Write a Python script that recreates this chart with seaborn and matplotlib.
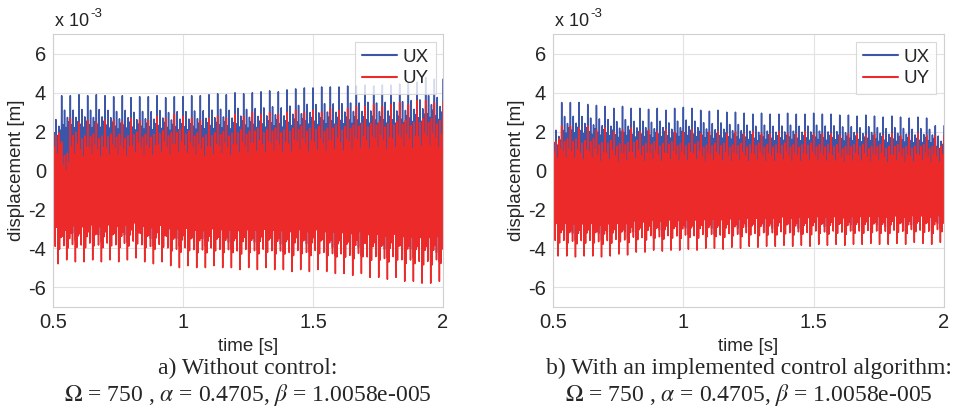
import numpy as np
import pandas as pd
import matplotlib
matplotlib.use('Agg')
import matplotlib.pyplot as plt
import seaborn as sb

# Envelopes, one value per major cycle (45 cycles, 0.5 s .. 2 s), in 1e-3 m

# a) without control
ux_a_hi = [3.3, 3.85, 3.85, 3.9, 3.85, 3.9, 3.85, 3.8, 3.85, 3.75, 3.8, 3.8, 3.85, 3.75, 3.8,
           3.8, 3.85, 3.85, 3.9, 3.95, 3.9, 4.0, 3.95, 4.0, 4.05, 4.1, 4.05, 4.15, 4.2, 4.25,
           4.25, 4.3, 4.3, 4.3, 4.35, 4.35, 4.4, 4.35, 4.4, 4.4, 4.45, 4.5, 4.55, 4.8, 4.7]
ux_a_lo = [-3.5, -3.6, -3.6, -3.7, -3.6, -3.7, -3.7, -3.8, -3.7, -3.8, -3.8, -3.9, -3.8, -3.9, -3.9,
           -3.9, -4.0, -3.9, -4.0, -4.0, -4.1, -4.0, -4.1, -4.1, -4.2, -4.1, -4.2, -4.2, -4.3, -4.2,
           -4.3, -4.3, -4.4, -4.3, -4.4, -4.4, -4.5, -4.4, -4.5, -4.5, -4.6, -4.5, -4.6, -4.6, -4.7]
uy_a_hi = [2.7, 1.5, 2.7, 2.5, 2.6, 2.5, 2.6, 2.6, 2.5, 2.7, 2.6, 2.6, 2.8, 2.7, 2.9,
           2.8, 2.7, 2.6, 2.7, 2.8, 2.7, 2.9, 2.8, 3.0, 2.9, 3.0, 2.9, 3.0, 3.1, 3.0,
           3.1, 3.0, 3.2, 3.1, 3.2, 3.3, 3.3, 3.4, 3.3, 3.4, 3.5, 3.4, 3.6, 3.6, 3.5]
uy_a_lo = [-4.8, -4.6, -4.7, -4.7, -4.6, -4.7, -4.6, -4.7, -4.6, -4.5, -4.7, -4.8, -4.7, -4.9, -5.0,
           -4.9, -5.0, -5.0, -4.9, -5.0, -5.0, -5.1, -5.0, -5.1, -5.0, -5.1, -5.1, -5.2, -5.1, -5.2,
           -5.1, -5.2, -5.3, -5.3, -5.4, -5.3, -5.5, -5.5, -5.6, -5.5, -5.7, -5.7, -5.8, -5.8, -5.7]

# b) with control algorithm
ux_b_hi = [2.7, 3.5, 3.5, 3.5, 3.4, 3.35, 3.3, 3.2, 3.3, 3.2, 3.2, 3.15, 3.2, 3.1, 3.2,
           3.25, 3.2, 3.1, 3.05, 3.1, 3.0, 3.0, 2.95, 2.9, 2.95, 2.9, 2.9, 2.95, 2.9, 2.9,
           2.95, 2.9, 2.9, 2.85, 2.85, 2.8, 2.85, 2.8, 2.75, 2.8, 2.75, 2.7, 2.75, 2.7, 2.3]
ux_b_lo = [-3.6, -3.7, -3.6, -3.7, -3.6, -3.6, -3.5, -3.6, -3.5, -3.5, -3.4, -3.5, -3.4, -3.4, -3.4,
           -3.3, -3.4, -3.3, -3.3, -3.4, -3.3, -3.3, -3.2, -3.3, -3.2, -3.3, -3.2, -3.2, -3.3, -3.2,
           -3.2, -3.2, -3.1, -3.2, -3.1, -3.2, -3.1, -3.1, -3.2, -3.1, -3.1, -3.1, -3.2, -3.1, -3.0]
uy_b_hi = [2.3, 2.3, 2.3, 2.2, 2.3, 2.1, 2.2, 2.0, 2.1, 2.2, 2.0, 2.1, 2.0, 2.1, 2.0,
           2.0, 2.1, 1.9, 2.0, 2.0, 1.9, 2.0, 1.9, 2.0, 1.9, 1.9, 2.0, 1.9, 1.9, 2.0,
           1.9, 1.9, 1.9, 1.8, 1.9, 1.9, 1.8, 1.9, 1.8, 1.9, 1.8, 1.8, 1.9, 1.8, 1.8]
uy_b_lo = [-4.4, -4.4, -4.45, -4.4, -4.4, -4.45, -4.4, -4.3, -4.35, -4.2, -4.2, -4.1, -4.15, -4.1, -4.1,
           -4.05, -4.1, -4.0, -4.0, -4.05, -3.95, -4.0, -3.9, -3.95, -3.9, -3.9, -3.85, -3.9, -3.85, -3.9,
           -3.8, -3.85, -3.8, -3.85, -3.8, -3.8, -3.75, -3.8, -3.8, -3.75, -3.8, -3.7, -3.75, -3.8, -3.7]

# shape of the fast oscillation inside one cycle (0 = trough, 1 = peak)
ux_shape = [1.0, 0.15, 0.8, 0.05, 0.9, 0.2, 0.78, 0.0, 0.85, 0.1, 0.82, 0.12]
uy_shape = [1.0, 0.2, 0.8, 0.12, 0.88, 0.25, 0.75, 0.0, 0.9, 0.1, 0.82, 0.18]

t_start, t_end = 0.5, 2.0
caption_a = 'a) Without control:'
caption_b = 'b) With an implemented control algorithm:'
params = r'$\Omega$ = 750 , $\alpha$ = 0.4705, $\beta$ = 1.0058e-005'


def build_series(hi, lo, shape):
    n = len(hi)
    dt = (t_end - t_start) / n
    t, y = [], []
    for k in range(n):
        for j, f in enumerate(shape):
            t.append(t_start + (k + j / len(shape)) * dt)
            y.append(lo[k] + f * (hi[k] - lo[k]))
    t.append(t_end)
    y.append(lo[-1] + shape[0] * (hi[-1] - lo[-1]))
    return pd.DataFrame({'time': t, 'disp': y})


sb.set_style('whitegrid')
plt.rcParams['font.family'] = ['Liberation Sans', 'DejaVu Sans']
plt.rcParams['mathtext.fontset'] = 'stix'

fig = plt.figure(figsize=(9.7, 4.12), dpi=100)
ax1 = fig.add_axes([53 / 970, 105.5 / 412, 390 / 970, 272 / 412])
ax2 = fig.add_axes([553 / 970, 105.5 / 412, 391 / 970, 272 / 412])

blue = '#3b55a9'
red = '#ec2a2a'

panels = [(ax1, ux_a_hi, ux_a_lo, uy_a_hi, uy_a_lo, caption_a),
          (ax2, ux_b_hi, ux_b_lo, uy_b_hi, uy_b_lo, caption_b)]

for ax, uxh, uxl, uyh, uyl, cap in panels:
    df_ux = build_series(uxh, uxl, ux_shape)
    df_uy = build_series(uyh, uyl, uy_shape)
    sb.lineplot(data=df_ux, x='time', y='disp', ax=ax, color=blue, lw=1.1,
                estimator=None, sort=False, label='UX')
    sb.lineplot(data=df_uy, x='time', y='disp', ax=ax, color=red, lw=1.1,
                estimator=None, sort=False, label='UY')
    ax.set_xlim(t_start, t_end)
    ax.set_ylim(-7, 7)
    ax.set_xticks([0.5, 1, 1.5, 2])
    ax.set_xticklabels(['0.5', '1', '1.5', '2'])
    ax.set_yticks([-6, -4, -2, 0, 2, 4, 6])
    ax.set_yticklabels(['-6', '-4', '-2', '0', '2', '4', '6'])
    ax.tick_params(labelsize=14.5, length=0, pad=5)
    ax.grid(color='#e2e2e2', lw=0.8)
    for s in ax.spines.values():
        s.set_color('#d0d0d0')
        s.set_linewidth(0.8)
    ax.set_xlabel('time [s]', fontsize=13.5, labelpad=4)
    ax.set_ylabel('displacement [m]', fontsize=13.5, labelpad=2)
    # scale factor above the axis, matlab style
    sc = ax.text(0.005, 1.015, 'x 10', transform=ax.transAxes, fontsize=13,
                 va='bottom', ha='left', color='#222222')
    ax.annotate('-3', xy=(1.0, 0.95), xycoords=sc, xytext=(1, 0),
                textcoords='offset points', fontsize=9.5, va='center', ha='left',
                color='#222222')
    leg = ax.legend(loc='upper right', fontsize=13.5, frameon=True, fancybox=False,
                    handlelength=1.9, borderaxespad=0.4, handletextpad=0.3,
                    labelspacing=0.25, borderpad=0.35)
    leg.get_frame().set_edgecolor('#d0d0d0')
    leg.get_frame().set_linewidth(0.8)
    for line in leg.get_lines():
        line.set_linewidth(1.5)
    bb = ax.get_position()
    cx = (bb.x0 + bb.x1) / 2
    fig.text(cx, 1 - 368 / 412, cap, ha='center', va='center', fontsize=17,
             family='Liberation Serif')
    fig.text(cx, 1 - 395 / 412, params, ha='center', va='center', fontsize=17,
             family='Liberation Serif')

plt.savefig('out.png', dpi=100)
